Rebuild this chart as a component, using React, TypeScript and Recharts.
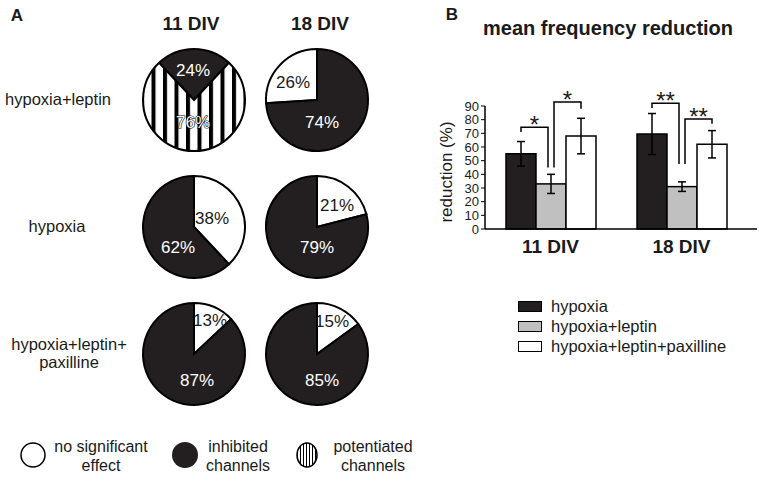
import React from 'react';
import { PieChart, Pie, Cell, BarChart, Bar, XAxis, YAxis, ErrorBar } from 'recharts';

const FONT = '"Liberation Sans", Arial, Helvetica, sans-serif';

// ---- panel A: proportion of channels per condition ----
const divLabels = ['11 DIV', '18 DIV'];
const treatments = [['hypoxia+leptin'], ['hypoxia'], ['hypoxia+leptin+', 'paxilline']];
const noEffect = [[0, 26], [38, 21], [13, 15]];
const inhibited = [[24, 74], [62, 79], [87, 85]];
const potentiated = [[76, 0], [0, 0], [0, 0]];

// ---- panel B: mean frequency reduction ----
const groups = ['11 DIV', '18 DIV'];
const hypoxiaMean = [55, 69.5];
const hypoxiaErr = [9, 15];
const leptinMean = [33, 31];
const leptinErr = [7, 3.5];
const paxMean = [68, 62];
const paxErr = [13, 10];
const yTicks = [0, 10, 20, 30, 40, 50, 60, 70, 80, 90];
// significance brackets, in % units: [top, left leg end, right leg end]
const sigLeft = [[74.5, 71, 45], [92, 88.5, 47.5]];
const sigRight = [[93, 45, 88], [80.5, 47.5, 77]];
const sigLeftStars = ['*', '**'];
const sigRightStars = ['*', '**'];

const BLACK = '#231f20';
const GRAY = '#c0c0c0';

// layout of the pie grid
const pieCx = [194, 317];
const pieCy = [100, 227, 354];
const pieR = 51;
const headerX = [191, 320];
const rowLabelX = [58, 57, 69];
const pieStart = [[46.8, 90], [90, 90], [90, 90]];
const pieDir = [[1, 1], [-1, -1], [-1, -1]];
// label offsets from the pie centre, one per drawn slice
const labelOffsets = [
  [[[-1, -30], [-1, 22]], [[-24, -18], [5, 22]]],
  [[[18, -9], [-16, 20]], [[20, -22], [0, 20]]],
  [[[16, -34], [3, 26]], [[15, -33], [5, 26]]],
];

const barData = groups.map((g, i) => ({
  name: g,
  hypoxia: hypoxiaMean[i],
  hypoxiaErr: hypoxiaErr[i],
  leptin: leptinMean[i],
  leptinErr: leptinErr[i],
  pax: paxMean[i],
  paxErr: paxErr[i],
}));

function T({ x, y, size = 16, bold = false, align = 'center', children }: any) {
  const tx = align === 'center' ? '-50%' : align === 'right' ? '-100%' : '0';
  return (
    <div
      style={{
        position: 'absolute',
        left: x,
        top: y,
        transform: `translate(${tx}, -50%)`,
        fontSize: size,
        fontWeight: bold ? 'bold' : 'normal',
        lineHeight: 1,
        whiteSpace: 'nowrap',
        color: '#1a1a1a',
      }}
    >
      {children}
    </div>
  );
}

function slicesFor(r: number, c: number) {
  return [
    { name: 'no significant effect', value: noEffect[r][c], fill: '#fff', text: '#1a1a1a', outline: false },
    { name: 'inhibited channels', value: inhibited[r][c], fill: BLACK, text: '#fff', outline: false },
    { name: 'potentiated channels', value: potentiated[r][c], fill: 'url(#stripes)', text: '#fff', outline: true },
  ].filter((s) => s.value > 0);
}

// gray bar also draws the significance brackets to its neighbours
const LeptinBar = (props: any) => {
  const { x, y, width, height, index, payload, fill } = props;
  const px = height / payload.leptin;
  const base = y + height;
  const Y = (v: number) => base - v * px;
  const mid = x + width / 2;
  const lx = x - width / 2;
  const rx = x + width * 1.5;
  const [t1, a1, b1] = sigLeft[index];
  const [t2, a2, b2] = sigRight[index];
  const l1 = mid - 3;
  const r2 = mid + 3;
  const st = { fill: 'none', stroke: '#000', strokeWidth: 1.5 };
  return (
    <g>
      <rect x={x} y={y} width={width} height={height} fill={fill} stroke="#000" strokeWidth={1.5} />
      <polyline points={`${lx},${Y(a1)} ${lx},${Y(t1)} ${l1},${Y(t1)} ${l1},${Y(b1)}`} {...st} />
      <polyline points={`${r2},${Y(a2)} ${r2},${Y(t2)} ${rx},${Y(t2)} ${rx},${Y(b2)}`} {...st} />
      <text x={(lx + l1) / 2} y={Y(t1) + 6} textAnchor="middle" fontSize={24} fontFamily={FONT} fill="#1a1a1a">
        {sigLeftStars[index]}
      </text>
      <text x={(r2 + rx) / 2} y={Y(t2) + 6} textAnchor="middle" fontSize={24} fontFamily={FONT} fill="#1a1a1a">
        {sigRightStars[index]}
      </text>
    </g>
  );
};

const barLegend = [
  { name: 'hypoxia', fill: BLACK },
  { name: 'hypoxia+leptin', fill: GRAY },
  { name: 'hypoxia+leptin+paxilline', fill: '#fff' },
];

export default function App() {
  return (
    <div
      style={{
        position: 'absolute',
        left: 0,
        top: 0,
        width: 759,
        height: 482,
        background: '#fff',
        fontFamily: FONT,
        overflow: 'hidden',
      }}
    >
      {/* panel A */}
      <div style={{ position: 'absolute', left: 0, top: 0 }}>
        <PieChart width={440} height={420} margin={{ top: 0, right: 0, bottom: 0, left: 0 }}>
          <defs>
            <pattern id="stripes" patternUnits="userSpaceOnUse" width={11.5} height={10} x={2}>
              <rect x={0} y={0} width={11.5} height={10} fill="#fff" />
              <rect x={0} y={0} width={4} height={10} fill="#000" />
            </pattern>
          </defs>
          {pieCy.map((cy, r) =>
            pieCx.map((cx, c) => {
              const data = slicesFor(r, c);
              const offs = labelOffsets[r][c];
              return (
                <Pie
                  key={`${r}-${c}`}
                  data={data}
                  dataKey="value"
                  nameKey="name"
                  cx={cx}
                  cy={cy}
                  outerRadius={pieR}
                  startAngle={pieStart[r][c]}
                  endAngle={pieStart[r][c] + pieDir[r][c] * 360}
                  stroke="#000"
                  strokeWidth={2}
                  isAnimationActive={false}
                  labelLine={false}
                  label={(p: any) => {
                    const i = p.index;
                    return (
                      <text
                        x={cx + offs[i][0]}
                        y={cy + offs[i][1]}
                        textAnchor="middle"
                        dominantBaseline="central"
                        fontSize={17}
                        fontFamily={FONT}
                        fill={data[i].text}
                        stroke={data[i].outline ? '#000' : 'none'}
                        strokeWidth={data[i].outline ? 1.2 : 0}
                        paintOrder="stroke"
                      >
                        {data[i].value}%
                      </text>
                    );
                  }}
                >
                  {data.map((s, i) => (
                    <Cell key={i} fill={s.fill} />
                  ))}
                </Pie>
              );
            })
          )}
        </PieChart>
      </div>

      <T x={17} y={15} size={17} bold>A</T>
      {divLabels.map((d, c) => (
        <T key={d} x={headerX[c]} y={23} size={19} bold>{d}</T>
      ))}
      {treatments.map((lines, r) => (
        <div
          key={r}
          style={{
            position: 'absolute',
            left: rowLabelX[r],
            top: pieCy[r] - 1,
            transform: 'translate(-50%, -50%)',
            textAlign: 'center',
            fontSize: 16.5,
            lineHeight: '18px',
            whiteSpace: 'nowrap',
            color: '#1a1a1a',
          }}
        >
          {lines.map((l) => (
            <div key={l}>{l}</div>
          ))}
        </div>
      ))}

      {/* panel A legend */}
      <svg style={{ position: 'absolute', left: 0, top: 430 }} width={340} height={50}>
        <defs>
          <pattern id="stripesSmall" patternUnits="userSpaceOnUse" width={3} height={4}>
            <rect x={0} y={0} width={3} height={4} fill="#fff" />
            <rect x={0} y={0} width={1} height={4} fill="#000" />
          </pattern>
        </defs>
        <circle cx={33} cy={25} r={12} fill="#fff" stroke="#000" strokeWidth={1.5} />
        <circle cx={185} cy={25} r={13} fill={BLACK} />
        <ellipse cx={307} cy={25} rx={10} ry={12} fill="url(#stripesSmall)" stroke="#000" strokeWidth={1.5} />
      </svg>
      {[
        { x: 101, lines: ['no significant', 'effect'] },
        { x: 238, lines: ['inhibited', 'channels'] },
        { x: 373, lines: ['potentiated', 'channels'] },
      ].map((e) => (
        <div
          key={e.x}
          style={{
            position: 'absolute',
            left: e.x,
            top: 437,
            transform: 'translateX(-50%)',
            textAlign: 'center',
            fontSize: 16,
            lineHeight: '19px',
            whiteSpace: 'nowrap',
            color: '#1a1a1a',
          }}
        >
          {e.lines.map((l) => (
            <div key={l}>{l}</div>
          ))}
        </div>
      ))}

      {/* panel B */}
      <T x={452} y={14} size={17} bold>B</T>
      <T x={608} y={28} size={20} bold>mean frequency reduction</T>
      <div
        style={{
          position: 'absolute',
          left: 446,
          top: 172,
          transform: 'translate(-50%, -50%) rotate(-90deg)',
          fontSize: 17,
          lineHeight: 1,
          whiteSpace: 'nowrap',
          color: '#1a1a1a',
        }}
      >
        reduction (%)
      </div>
      <div style={{ position: 'absolute', left: 440, top: 0 }}>
        <BarChart
          width={319}
          height={270}
          data={barData}
          margin={{ top: 106, right: 2, bottom: 11, left: 15 }}
          barGap={0}
          barSize={30}
        >
          <XAxis
            dataKey="name"
            tickLine={false}
            tickSize={6}
            tickMargin={5}
            padding={{ left: 0, right: 10 }}
            axisLine={{ stroke: '#000', strokeWidth: 1.5 }}
            tick={{ fill: '#1a1a1a', fontSize: 19, fontWeight: 'bold', fontFamily: FONT }}
            height={30}
          />
          <YAxis
            domain={[0, 90]}
            ticks={yTicks}
            interval={0}
            width={30}
            tickSize={4}
            tickMargin={2}
            axisLine={{ stroke: '#000', strokeWidth: 1.5 }}
            tickLine={{ stroke: '#000' }}
            tick={{ fill: '#1a1a1a', fontSize: 13, fontFamily: FONT }}
          />
          <Bar dataKey="hypoxia" name="hypoxia" fill={BLACK} stroke="#000" strokeWidth={1.5} isAnimationActive={false}>
            <ErrorBar dataKey="hypoxiaErr" width={4} stroke="#000" strokeWidth={1.5} />
          </Bar>
          <Bar dataKey="leptin" name="hypoxia+leptin" fill={GRAY} shape={LeptinBar} isAnimationActive={false}>
            <ErrorBar dataKey="leptinErr" width={4} stroke="#000" strokeWidth={1.5} />
          </Bar>
          <Bar dataKey="pax" name="hypoxia+leptin+paxilline" fill="#fff" stroke="#000" strokeWidth={1.5} isAnimationActive={false}>
            <ErrorBar dataKey="paxErr" width={4} stroke="#000" strokeWidth={1.5} />
          </Bar>
        </BarChart>
      </div>

      {/* panel B legend */}
      {barLegend.map((e, i) => (
        <div
          key={e.name}
          style={{
            position: 'absolute',
            left: 518,
            top: 296 + i * 20,
            height: 20,
            display: 'flex',
            alignItems: 'center',
            fontSize: 16.5,
            whiteSpace: 'nowrap',
            color: '#1a1a1a',
          }}
        >
          <span
            style={{
              display: 'inline-block',
              width: 22,
              height: 9,
              background: e.fill,
              border: '1.5px solid #000',
              marginRight: 9,
            }}
          />
          {e.name}
        </div>
      ))}
    </div>
  );
}
